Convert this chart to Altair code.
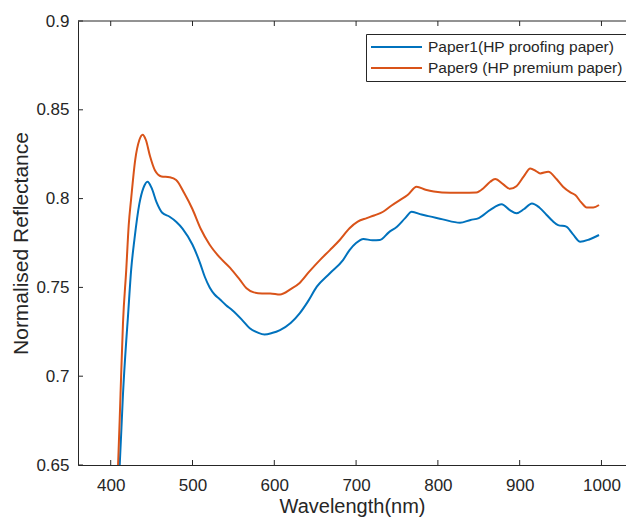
import altair as alt
import pandas as pd

# ---- data ----
series_names = ["Paper1(HP proofing paper)", "Paper9 (HP premium paper)"]
series_colors = ["#0072BD", "#D95319"]

wl_paper1 = [405, 411, 415, 419, 421, 425, 429, 435, 440, 445, 450, 456, 463, 472, 480,
             488, 500, 509, 515, 521, 527, 533, 541, 549, 560, 570, 580, 588, 597, 607,
             620, 631, 641, 652, 668, 684, 692, 700, 709, 720, 729, 740, 750, 760, 768,
             780, 790, 806, 827, 840, 850, 864, 878, 888, 896, 905, 915, 924, 933, 940,
             947, 957, 965, 974, 985, 997]
refl_paper1 = [0.62, 0.65, 0.69, 0.72, 0.733, 0.76, 0.777, 0.797, 0.806, 0.8095, 0.806, 0.798,
               0.792, 0.7898, 0.787, 0.783, 0.774, 0.764, 0.756, 0.750, 0.746, 0.7435, 0.740,
               0.737, 0.732, 0.727, 0.7245, 0.7235, 0.7243, 0.726, 0.730, 0.7354, 0.742,
               0.7504, 0.758, 0.7654, 0.771, 0.775, 0.7773, 0.7765, 0.7767, 0.781, 0.7842,
               0.789, 0.7926, 0.791, 0.790, 0.7883, 0.7864, 0.788, 0.789, 0.7936, 0.7968,
               0.7935, 0.7917, 0.794, 0.7973, 0.795, 0.7908, 0.7875, 0.7851, 0.7842, 0.780,
               0.7757, 0.777, 0.7795]

wl_paper9 = [403, 409, 412, 415, 419, 422, 425, 430, 435, 439, 443, 448, 454, 462, 472,
             480, 490, 500, 510, 521, 533, 546, 558, 566, 575, 585, 595, 607, 620, 631,
             643, 656, 668, 680, 692, 702, 713, 722, 733, 743, 753, 763, 774, 785, 795,
             815, 830, 847, 856, 864, 870, 880, 888, 896, 905, 913, 920, 925, 935, 945,
             953, 962, 968, 975, 982, 990, 997]
refl_paper9 = [0.62, 0.65, 0.69, 0.73, 0.76, 0.785, 0.80, 0.822, 0.833, 0.836, 0.833, 0.824,
               0.816, 0.8125, 0.812, 0.8105, 0.803, 0.794, 0.783, 0.774, 0.767, 0.761,
               0.7542, 0.7495, 0.7472, 0.7466, 0.7466, 0.746, 0.749, 0.7525, 0.759, 0.7655,
               0.771, 0.7767, 0.7833, 0.787, 0.789, 0.7905, 0.7926, 0.796, 0.799, 0.802,
               0.8067, 0.805, 0.804, 0.8033, 0.8033, 0.8035, 0.806, 0.8095, 0.811, 0.808,
               0.8055, 0.807, 0.8125, 0.817, 0.8155, 0.8142, 0.8151, 0.811, 0.8067, 0.8035,
               0.802, 0.798, 0.795, 0.795, 0.7964]

x_ticks = [400, 500, 600, 700, 800, 900, 1000]
y_ticks = [0.65, 0.7, 0.75, 0.8, 0.85, 0.9]

x_domain = [360, 1030]
y_domain = [0.65, 0.9]

# ---- build tables ----
df = pd.concat([
    pd.DataFrame({"wl": wl_paper1, "r": refl_paper1, "series": series_names[0]}),
    pd.DataFrame({"wl": wl_paper9, "r": refl_paper9, "series": series_names[1]}),
])
xt = pd.DataFrame({"wl": x_ticks})
yt = pd.DataFrame({"r": y_ticks})
one = pd.DataFrame({"k": [0]})

W, H = 548, 444
FONT = "Liberation Sans"
AX = "#262626"

xs = alt.Scale(domain=x_domain, nice=False, zero=False)
ys = alt.Scale(domain=y_domain, nice=False, zero=False)

x_axis = alt.Axis(values=x_ticks, format="d", title="Wavelength(nm)",
                  ticks=False, grid=False, domainColor=AX, domainWidth=1,
                  labelColor=AX, labelFontSize=17, labelFont=FONT,
                  labelPadding=12, titleFont=FONT, titleFontSize=20,
                  titleFontWeight="normal", titleColor=AX, titlePadding=3)
y_axis = alt.Axis(values=y_ticks, format="~g", title="Normalised Reflectance",
                  ticks=False, grid=False, domainColor=AX, domainWidth=1,
                  labelColor=AX, labelFontSize=17, labelFont=FONT,
                  labelPadding=9, titleFont=FONT, titleFontSize=21,
                  titleFontWeight="normal", titleColor=AX, titlePadding=4)

X = alt.X("wl:Q", scale=xs, axis=x_axis, title="Wavelength(nm)")
Y = alt.Y("r:Q", scale=ys, axis=y_axis, title="Normalised Reflectance")

lines = alt.Chart(df).mark_line(strokeWidth=2, interpolate="monotone", clip=True).encode(
    x=X,
    y=Y,
    color=alt.Color("series:N",
                    scale=alt.Scale(domain=series_names, range=series_colors),
                    legend=alt.Legend(title=None, orient="none", legendX=288, legendY=13,
                                      symbolType="stroke", symbolSize=2600,
                                      symbolStrokeWidth=2, clipHeight=18, rowPadding=3,
                                      labelFont=FONT, labelFontSize=15.5, labelColor=AX,
                                      labelOffset=5, labelLimit=400, padding=4,
                                      strokeColor=AX, fillColor="white", cornerRadius=0)),
    detail="series:N",
)

xtick_bottom = alt.Chart(xt).mark_rule(color=AX, strokeWidth=1).encode(
    x=X, y=alt.value(H), y2=alt.value(H - 5))
xtick_top = alt.Chart(xt).mark_rule(color=AX, strokeWidth=1).encode(
    x=X, y=alt.value(0), y2=alt.value(5))
ytick_left = alt.Chart(yt).mark_rule(color=AX, strokeWidth=1).encode(
    y=Y, x=alt.value(0), x2=alt.value(5))
top_border = alt.Chart(one).mark_rule(color=AX, strokeWidth=1).encode(
    x=alt.value(0), x2=alt.value(W), y=alt.value(0))

chart = alt.layer(lines, xtick_bottom, xtick_top, ytick_left, top_border).properties(
    width=W, height=H,
    autosize=alt.AutoSizeParams(type="none"),
    padding={"left": 70, "top": 13, "right": 0, "bottom": 52},
    background="white",
).configure_view(strokeWidth=0)

chart.save("out.html", embed_options={"renderer": "svg", "actions": False})
